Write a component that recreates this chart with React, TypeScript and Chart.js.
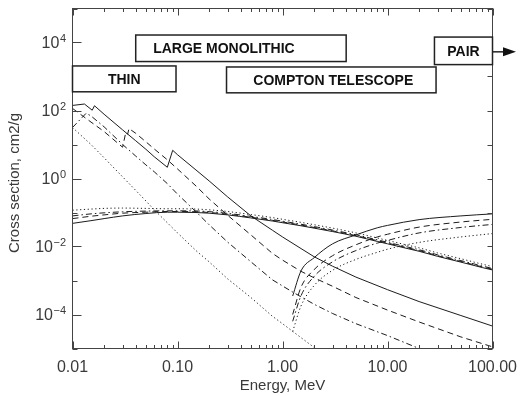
import React, { useEffect, useRef } from 'react';
import { Chart, registerables } from 'chart.js';

Chart.register(...registerables);

// ---------- data (energy in MeV, cross section in cm2/g) ----------
// Photoelectric absorption
const photoEnergyPb = [0.01, 0.013, 0.0154, 0.0162, 0.02, 0.03, 0.04, 0.05, 0.06, 0.08, 0.09, 0.1, 0.15, 0.2, 0.3, 0.5, 0.8, 1, 1.5, 2, 3, 5, 10, 20, 50, 100];
const photoPb = [141, 155, 102, 138, 77.6, 26.9, 12.9, 7.24, 4.37, 2.14, 6.76, 5.01, 1.78, 0.851, 0.288, 0.0794, 0.0302, 0.0191, 0.00871, 0.00501, 0.00263, 0.00126, 5.37e-4, 2.4e-4, 9.33e-5, 4.57e-5];

const photoEnergyCsI = [0.01, 0.015, 0.02, 0.03, 0.0322, 0.0335, 0.0345, 0.04, 0.05, 0.06, 0.08, 0.1, 0.15, 0.2, 0.3, 0.5, 0.8, 1, 1.5, 2, 3, 5, 10, 20, 50, 100];
const photoCsI = [115, 45.7, 24.0, 8.32, 22.9, 20.0, 29.5, 21.4, 12.0, 7.41, 3.55, 1.91, 0.603, 0.251, 0.0832, 0.0219, 0.00631, 0.00398, 0.00186, 0.0012, 6.76e-4, 3.16e-4, 1.35e-4, 6.03e-5, 2.19e-5, 1.12e-5];

const photoEnergyGe = [0.01, 0.0135, 0.015, 0.02, 0.03, 0.04, 0.05, 0.06, 0.08, 0.1, 0.15, 0.2, 0.3, 0.5, 0.8, 1, 1.25, 1.5, 2, 3, 5, 10, 20, 30];
const photoGe = [31.6, 83.2, 69.2, 33.1, 10.0, 4.57, 2.51, 1.58, 0.708, 0.347, 0.105, 0.0437, 0.0135, 0.00355, 0.00105, 6.92e-4, 4.57e-4, 3.31e-4, 2.0e-4, 1.07e-4, 5.37e-5, 2.4e-5, 1.0e-5, 6.31e-6];

const photoEnergySi = [0.01, 0.015, 0.02, 0.03, 0.04, 0.05, 0.06, 0.08, 0.1, 0.15, 0.2, 0.3, 0.5, 0.8, 1, 1.5, 2, 3];
const photoSi = [31.6, 10.0, 4.07, 1.12, 0.447, 0.219, 0.12, 0.0501, 0.0251, 0.00759, 0.00355, 0.00112, 3.16e-4, 8.91e-5, 5.37e-5, 2.09e-5, 1.07e-5, 4.47e-6];

// Compton scattering
const comptonEnergy = [0.01, 0.015, 0.02, 0.03, 0.05, 0.08, 0.1, 0.15, 0.2, 0.3, 0.5, 0.8, 1, 1.5, 2, 3, 5, 8, 10, 15, 20, 30, 50, 80, 100];
const comptonPb = [0.0479, 0.0575, 0.0661, 0.0794, 0.0933, 0.102, 0.102, 0.1, 0.0955, 0.0851, 0.0692, 0.0562, 0.0501, 0.0407, 0.0347, 0.0275, 0.02, 0.0141, 0.012, 0.00891, 0.00724, 0.00513, 0.00347, 0.0024, 0.00204];
const comptonCsI = [0.0661, 0.0776, 0.0851, 0.0955, 0.102, 0.107, 0.107, 0.105, 0.1, 0.0891, 0.0724, 0.0589, 0.0525, 0.0427, 0.0363, 0.0288, 0.0209, 0.0148, 0.0126, 0.00933, 0.00759, 0.00537, 0.00363, 0.00251, 0.00214];
const comptonGe = [0.0794, 0.0912, 0.0977, 0.105, 0.11, 0.112, 0.112, 0.111, 0.106, 0.0944, 0.0767, 0.0624, 0.0556, 0.0452, 0.0385, 0.0305, 0.0221, 0.0157, 0.0133, 0.00989, 0.00804, 0.00569, 0.00385, 0.00266, 0.00226];
const comptonSi = [0.117, 0.126, 0.132, 0.135, 0.132, 0.129, 0.129, 0.126, 0.12, 0.107, 0.0871, 0.0708, 0.0631, 0.0513, 0.0437, 0.0347, 0.0251, 0.0178, 0.0151, 0.0112, 0.00912, 0.00646, 0.00437, 0.00302, 0.00257];

// Pair production
const pairEnergy = [1.25, 1.5, 2, 3, 5, 8, 10, 20, 50, 100];
const pairPb = [3.5e-4, 1.91e-3, 4.68e-3, 0.012, 0.0219, 0.0355, 0.0417, 0.0617, 0.0794, 0.0912];
const pairCsI = [1.0e-4, 6.31e-4, 2.09e-3, 5.37e-3, 0.0112, 0.0191, 0.0229, 0.0372, 0.0525, 0.0631];
const pairGe = [6.31e-5, 3.55e-4, 1.32e-3, 3.55e-3, 7.59e-3, 0.0126, 0.0151, 0.0251, 0.0363, 0.0447];
const pairSi = [3.16e-5, 1.78e-4, 7.08e-4, 2.0e-3, 4.17e-3, 6.76e-3, 8.32e-3, 0.0132, 0.0191, 0.024];

// Axis ticks
const xTickValues = [0.01, 0.1, 1, 10, 100];
const xTickLabels = ['0.01', '0.10', '1.00', '10.00', '100.00'];
const yTickExponents = [4, 2, 0, -2, -4];

// Detector regime boxes (energy range in MeV, vertical extent in cm2/g)
const boxLabels = ['THIN', 'LARGE MONOLITHIC', 'COMPTON TELESCOPE', 'PAIR'];
const boxEmin = [0.01, 0.04, 0.293, 28];
const boxEmax = [0.0968, 4.04, 29, 100];
const boxYlow = [355, 2754, 331, 2239];
const boxYhigh = [2042, 16600, 1905, 14450];

const FONT = '"Liberation Sans", Arial, Helvetica, sans-serif';
const LINE = '#1c1c1c';

function zip(xs: number[], ys: number[]) {
  return xs.map((x, i) => ({ x, y: ys[i] }));
}

const SOLID: number[] = [];
const DASHED = [6, 4];
const DASHDOT = [6, 3, 1.5, 3];
const DOTTED = [1.2, 2.6];

export default function App() {
  const ref = useRef<HTMLCanvasElement>(null);

  useEffect(() => {
    const canvas = ref.current;
    if (!canvas) return;

    const mk = (xs: number[], ys: number[], dash: number[], smooth: boolean) => ({
      data: zip(xs, ys),
      borderColor: LINE,
      borderWidth: 1,
      borderDash: dash,
      pointRadius: 0,
      showLine: true,
      fill: false,
      tension: 0,
      cubicInterpolationMode: smooth ? 'monotone' : 'default',
    });

    const overlay = {
      id: 'overlay',
      afterDraw(chart: any) {
        const { ctx, chartArea: a, scales } = chart;
        const xs = scales.x;
        const ys = scales.y;
        ctx.save();
        const seg = (x1: number, y1: number, x2: number, y2: number) => {
          ctx.beginPath();
          ctx.moveTo(x1, y1);
          ctx.lineTo(x2, y2);
          ctx.stroke();
        };
        // frame
        ctx.strokeStyle = '#444';
        ctx.lineWidth = 1;
        ctx.setLineDash([]);
        ctx.strokeRect(a.left, a.top, a.right - a.left, a.bottom - a.top);

        // x ticks (bottom and top)
        for (let d = -2; d <= 2; d++) {
          for (let k = 1; k <= 9; k++) {
            const v = k * Math.pow(10, d);
            if (v > 100.001) break;
            const px = Math.round(xs.getPixelForValue(v)) + 0.5;
            const len = k === 1 ? 7 : 3.5;
            seg(px, a.bottom, px, a.bottom - len);
            seg(px, a.top, px, a.top + len);
          }
        }
        // y ticks (left and right)
        for (let d = -5; d <= 5; d++) {
          const py = Math.round(ys.getPixelForValue(Math.pow(10, d))) + 0.5;
          const labeled = yTickExponents.indexOf(d) >= 0;
          seg(a.left, py, a.left + (labeled ? 9 : 5), py);
          seg(a.right, py, a.right - 5, py);
        }

        // tick labels
        ctx.fillStyle = '#3a3a3a';
        ctx.textAlign = 'center';
        ctx.textBaseline = 'middle';
        ctx.font = `16px ${FONT}`;
        xTickValues.forEach((v, i) => {
          ctx.fillText(xTickLabels[i], xs.getPixelForValue(v), a.bottom + 19);
        });
        yTickExponents.forEach((e) => {
          const py = ys.getPixelForValue(Math.pow(10, e));
          const expStr = e < 0 ? '\u2212' + Math.abs(e) : String(e);
          ctx.font = `11px ${FONT}`;
          const ew = ctx.measureText(expStr).width;
          const right = 66;
          ctx.textAlign = 'left';
          ctx.fillText(expStr, right - ew, py - 4);
          ctx.font = `16px ${FONT}`;
          ctx.textAlign = 'right';
          ctx.fillText('10', right - ew - 0.5, py + 1.5);
        });

        // axis titles
        ctx.textAlign = 'center';
        ctx.font = `15px ${FONT}`;
        ctx.fillText('Energy, MeV', (a.left + a.right) / 2, a.bottom + 37);
        ctx.save();
        ctx.translate(15, 183);
        ctx.rotate(-Math.PI / 2);
        ctx.fillText('Cross section, cm2/g', 0, 0);
        ctx.restore();

        // regime boxes
        const textDx = [0, -17, 2, 0];
        boxLabels.forEach((lab, i) => {
          const x1 = xs.getPixelForValue(boxEmin[i]);
          const x2 = xs.getPixelForValue(boxEmax[i]);
          const y1 = ys.getPixelForValue(boxYhigh[i]);
          const y2 = ys.getPixelForValue(boxYlow[i]);
          ctx.fillStyle = '#fff';
          ctx.fillRect(x1, y1, x2 - x1, y2 - y1);
          ctx.strokeStyle = '#222';
          ctx.lineWidth = 1.5;
          ctx.strokeRect(x1, y1, x2 - x1, y2 - y1);
          ctx.fillStyle = '#111';
          ctx.font = `bold 14px ${FONT}`;
          ctx.textAlign = 'center';
          ctx.textBaseline = 'middle';
          ctx.fillText(lab, (x1 + x2) / 2 + textDx[i], (y1 + y2) / 2 + 1);
          if (lab === 'PAIR') {
            const yc = (y1 + y2) / 2 + 1;
            ctx.lineWidth = 1.5;
            seg(x2, yc, 506, yc);
            ctx.beginPath();
            ctx.moveTo(516, yc);
            ctx.lineTo(503, yc - 4.5);
            ctx.lineTo(503, yc + 4.5);
            ctx.closePath();
            ctx.fillStyle = '#111';
            ctx.fill();
          }
        });
        ctx.restore();
      },
    };

    const chart = new Chart(canvas, {
      type: 'scatter',
      data: {
        datasets: [
          mk(photoEnergyPb, photoPb, SOLID, false),
          mk(photoEnergyCsI, photoCsI, DASHED, false),
          mk(photoEnergyGe, photoGe, DASHDOT, false),
          mk(photoEnergySi, photoSi, DOTTED, false),
          mk(comptonEnergy, comptonPb, SOLID, true),
          mk(comptonEnergy, comptonCsI, DASHED, true),
          mk(comptonEnergy, comptonGe, DASHDOT, true),
          mk(comptonEnergy, comptonSi, DOTTED, true),
          mk(pairEnergy, pairPb, SOLID, true),
          mk(pairEnergy, pairCsI, DASHED, true),
          mk(pairEnergy, pairGe, DASHDOT, true),
          mk(pairEnergy, pairSi, DOTTED, true),
        ] as any,
      },
      options: {
        animation: false,
        responsive: false,
        devicePixelRatio: 1,
        layout: { padding: { left: 72.5, right: 28.5, top: 8.5, bottom: 47.5 } },
        plugins: { legend: { display: false }, tooltip: { enabled: false } },
        events: [],
        scales: {
          x: { type: 'logarithmic', min: 0.01, max: 100, display: false },
          y: { type: 'logarithmic', min: 1e-5, max: 1e5, display: false },
        },
      },
      plugins: [overlay],
    } as any);

    return () => chart.destroy();
  }, []);

  return (
    <div style={{ position: 'absolute', left: 0, top: 0, width: 521, height: 396, background: '#fff' }}>
      <canvas ref={ref} width={521} height={396} style={{ width: 521, height: 396, display: 'block' }} />
    </div>
  );
}
